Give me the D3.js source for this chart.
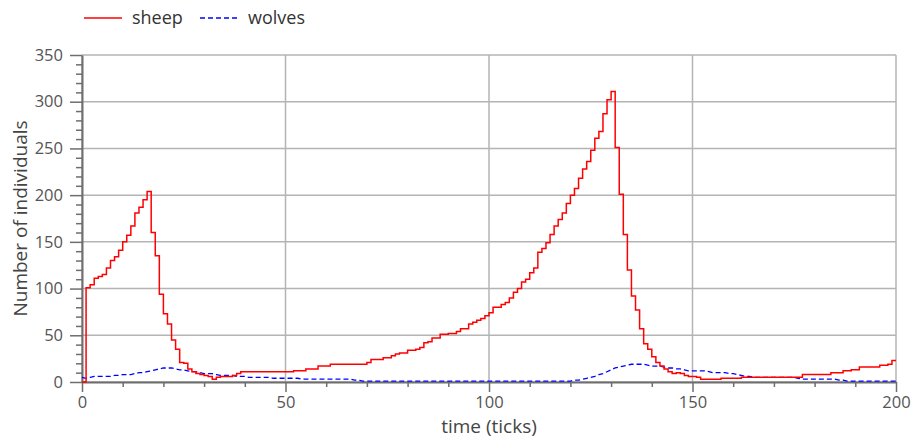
<!DOCTYPE html>
<html>
<head>
<meta charset="utf-8">
<script src="https://cdn.jsdelivr.net/npm/d3@7"></script>
<style>
  body { margin: 0; background: #fff; }
  text { font-family: "Open Sans", "DejaVu Sans", sans-serif; }
</style>
</head>
<body>
<svg id="chart" width="911" height="439"></svg>
<script>
const svgEl = document.getElementById('chart')
const width = +svgEl.getAttribute('width')
const height = +svgEl.getAttribute('height')
const margin = {top: 55, right: 15, bottom: 57, left: 82}

// one value per tick, t = 0..200
const ticks = d3.range(0, 201)
const sheep = [
  0, 101, 104, 111, 113, 115, 122, 130, 134, 141,
  150, 157, 167, 181, 187, 195, 204, 160, 135, 94,
  73, 62, 45, 35, 21, 20, 14, 11, 9, 8,
  7, 6, 3, 5, 6, 6, 6, 7, 9, 11,
  11, 11, 11, 11, 11, 11, 11, 11, 11, 11,
  11, 11, 12, 12, 12, 14, 14, 14, 17, 17,
  17, 19, 19, 19, 19, 19, 19, 19, 19, 19,
  21, 24, 24, 24, 26, 26, 28, 30, 31, 31,
  34, 34, 35, 37, 42, 43, 47, 47, 51, 51,
  52, 52, 54, 57, 57, 62, 64, 66, 68, 71,
  74, 80, 80, 83, 85, 90, 96, 100, 107, 110,
  117, 122, 139, 143, 149, 158, 167, 174, 181, 191,
  200, 207, 218, 228, 236, 248, 261, 268, 287, 302,
  311, 251, 201, 158, 120, 92, 77, 57, 41, 35,
  27, 21, 17, 14, 11, 9, 10, 9, 7, 6,
  6, 5, 3, 3, 3, 3, 3, 4, 4, 4,
  4, 4, 5, 5, 5, 5, 5, 5, 5, 5,
  5, 5, 5, 5, 5, 5, 5, 8, 8, 8,
  8, 8, 8, 8, 10, 10, 10, 12, 12, 13,
  13, 16, 16, 16, 16, 16, 18, 18, 19, 23,
  23
]
const wolves = [
  5, 4, 5, 6, 6, 6, 6, 6, 7, 7,
  8, 8, 8, 9, 10, 10, 11, 12, 13, 14,
  15, 15, 15, 14, 13, 13, 12, 11, 11, 10,
  9, 9, 9, 8, 7, 7, 7, 7, 6, 6,
  6, 5, 5, 5, 5, 5, 5, 4, 4, 4,
  4, 4, 4, 4, 3, 3, 3, 3, 3, 3,
  3, 3, 3, 3, 3, 3, 3, 2, 2, 1,
  1, 1, 1, 1, 1, 1, 1, 1, 1, 1,
  1, 1, 1, 1, 1, 1, 1, 1, 1, 1,
  1, 1, 1, 1, 1, 1, 1, 1, 1, 1,
  1, 1, 1, 1, 1, 1, 1, 1, 1, 1,
  1, 1, 1, 1, 1, 1, 1, 1, 1, 1,
  1, 2, 2, 3, 4, 5, 6, 8, 9, 11,
  13, 15, 16, 17, 18, 19, 19, 19, 19, 18,
  17, 17, 17, 16, 15, 15, 14, 14, 13, 12,
  12, 12, 12, 12, 11, 10, 10, 10, 10, 9,
  9, 8, 7, 6, 6, 5, 5, 5, 5, 5,
  5, 5, 5, 5, 5, 5, 4, 3, 3, 3,
  3, 3, 3, 3, 3, 3, 2, 2, 1, 1,
  1, 1, 1, 1, 1, 1, 1, 1, 1, 1,
  1
]
const xTickValues = [0, 50, 100, 150, 200]
const yTickValues = [0, 50, 100, 150, 200, 250, 300, 350]
const seriesNames = ['sheep', 'wolves']

const svg = d3.select('#chart')

const x = d3.scaleLinear()
  .domain([0, 200])
  .range([margin.left, width - margin.right])
const y = d3.scaleLinear()
  .domain([0, 350])
  .range([height - margin.bottom, margin.top])

const gridColor = '#b4b4b4'
const axisColor = '#6e6e6e'
const labelColor = '#555'

// grid lines
svg.append('g')
  .selectAll('line')
  .data(yTickValues)
  .enter()
  .append('line')
  .attr('x1', x(0)).attr('x2', x(200))
  .attr('y1', d => y(d)).attr('y2', d => y(d))
  .attr('stroke', gridColor)
  .attr('stroke-width', 1.5)
svg.append('g')
  .selectAll('line')
  .data(xTickValues)
  .enter()
  .append('line')
  .attr('x1', d => x(d)).attr('x2', d => x(d))
  .attr('y1', y(0)).attr('y2', y(350))
  .attr('stroke', gridColor)
  .attr('stroke-width', 1.5)

// axes: major ticks every 50, minor every 10
const styleAxis = g => {
  g.select('.domain').attr('stroke', axisColor).attr('stroke-width', 2)
  g.selectAll('.tick line').attr('stroke', axisColor).attr('stroke-width', 1.5)
  g.selectAll('.tick text').attr('fill', labelColor).attr('font-size', 16.5)
    .attr('font-family', '"Open Sans", "DejaVu Sans", sans-serif')
}

svg.append('g')
  .attr('transform', `translate(0,${y(0)})`)
  .call(d3.axisBottom(x).tickValues(d3.range(0, 201, 10)).tickSizeOuter(0)
    .tickFormat(d => d % 50 === 0 ? d : ''))
  .call(styleAxis)
  .call(g => g.selectAll('.tick line').attr('y2', d => d % 50 === 0 ? 10 : 5))
  .call(g => g.selectAll('.tick text').attr('y', 14))

svg.append('g')
  .attr('transform', `translate(${x(0)},0)`)
  .call(d3.axisLeft(y).tickValues(d3.range(0, 351, 10)).tickSizeOuter(0)
    .tickFormat(d => d % 50 === 0 ? d : ''))
  .call(styleAxis)
  .call(g => g.selectAll('.tick line').attr('x2', d => d % 50 === 0 ? -12 : -6))
  .call(g => g.selectAll('.tick text').attr('x', -19))

// axis titles
svg.append('text')
  .attr('x', (x(0) + x(200)) / 2)
  .attr('y', 433)
  .attr('text-anchor', 'middle')
  .attr('font-size', 19)
  .attr('fill', '#444')
  .text('time (ticks)')
svg.append('text')
  .attr('transform', `translate(27,${(y(0) + y(350)) / 2}) rotate(-90)`)
  .attr('text-anchor', 'middle')
  .attr('font-size', 19)
  .attr('fill', '#444')
  .text('Number of individuals')

// series
const sheepLine = d3.line()
  .x((d, i) => x(ticks[i]))
  .y(d => y(d))
  .curve(d3.curveStepAfter)
const wolvesLine = d3.line()
  .x((d, i) => x(ticks[i]))
  .y(d => y(d))

svg.append('path')
  .datum(wolves)
  .attr('fill', 'none')
  .attr('stroke', '#0000ff')
  .attr('stroke-width', 1.3)
  .attr('stroke-dasharray', '5,3')
  .attr('d', wolvesLine)

svg.append('path')
  .datum(sheep)
  .attr('fill', 'none')
  .attr('stroke', '#ff0000')
  .attr('stroke-width', 1.5)
  .attr('d', sheepLine)

// legend
const legend = svg.append('g')
const legendItems = [
  {name: seriesNames[0], color: '#ff0000', dash: null, x: 84},
  {name: seriesNames[1], color: '#0000ff', dash: '5,3', x: 200}
]
legendItems.forEach(item => {
  legend.append('line')
    .attr('x1', item.x).attr('x2', item.x + 38)
    .attr('y1', 18).attr('y2', 18)
    .attr('stroke', item.color)
    .attr('stroke-width', 1.5)
    .attr('stroke-dasharray', item.dash)
  legend.append('text')
    .attr('x', item.x + 48)
    .attr('y', 24)
    .attr('font-size', 18)
    .attr('fill', '#333')
    .text(item.name)
})
</script>
</body>
</html>
